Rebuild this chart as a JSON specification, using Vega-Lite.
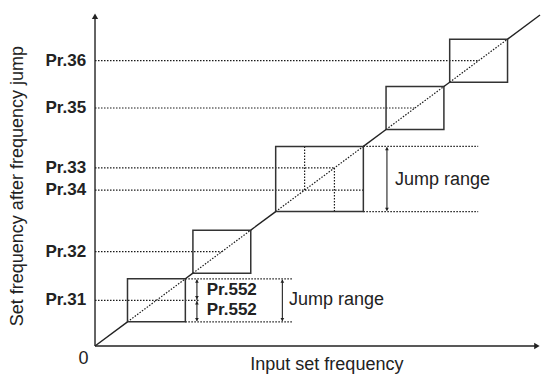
{
  "$schema": "https://vega.github.io/schema/vega-lite/v6.json",
  "width": 541,
  "height": 374,
  "padding": 0,
  "autosize": "none",
  "background": "white",
  "config": {"view": {"stroke": null}},
  "encoding": {
    "x": {"field": "x", "type": "quantitative", "scale": {"domain": [-21.35, 100.22], "nice": false, "zero": false}, "axis": null},
    "y": {"field": "y", "type": "quantitative", "scale": {"domain": [-8.46, 104.53], "nice": false, "zero": false}, "axis": null}
  },
  "layer": [
    {
      "data": {"values": [
        {"x": 7.3, "y": 7.3, "x2": 20.3, "y2": 20.3},
        {"x": 22, "y": 22, "x2": 35, "y2": 35},
        {"x": 40.6, "y": 40.6, "x2": 60.3, "y2": 60.3},
        {"x": 65.4, "y": 65.4, "x2": 78.4, "y2": 78.4},
        {"x": 79.7, "y": 79.7, "x2": 92.7, "y2": 92.7},
        {"x": 0, "y": 86.2, "x2": 86.2, "y2": 86.2},
        {"x": 0, "y": 71.9, "x2": 71.9, "y2": 71.9},
        {"x": 0, "y": 53.8, "x2": 53.8, "y2": 53.8},
        {"x": 0, "y": 47.1, "x2": 60.3, "y2": 47.1},
        {"x": 0, "y": 28.5, "x2": 28.5, "y2": 28.5},
        {"x": 0, "y": 13.8, "x2": 23.3, "y2": 13.8},
        {"x": 20.3, "y": 20.3, "x2": 44.3, "y2": 20.3},
        {"x": 20.3, "y": 7.3, "x2": 44.3, "y2": 7.3},
        {"x": 60.3, "y": 60.3, "x2": 86.1, "y2": 60.3},
        {"x": 60.3, "y": 40.6, "x2": 86.1, "y2": 40.6},
        {"x": 47.1, "y": 47.1, "x2": 47.1, "y2": 60.3},
        {"x": 53.8, "y": 40.6, "x2": 53.8, "y2": 53.8}
      ]},
      "mark": {"type": "rule", "color": "#1a1a1a", "strokeWidth": 1.2, "strokeDash": [1.5, 1.5]},
      "encoding": {"x2": {"field": "x2"}, "y2": {"field": "y2"}}
    },
    {
      "data": {"values": [
        {"x": 7.3, "y": 7.3, "x2": 20.3, "y2": 20.3},
        {"x": 22, "y": 22, "x2": 35, "y2": 35},
        {"x": 40.6, "y": 40.6, "x2": 60.3, "y2": 60.3},
        {"x": 65.4, "y": 65.4, "x2": 78.4, "y2": 78.4},
        {"x": 79.7, "y": 79.7, "x2": 92.7, "y2": 92.7}
      ]},
      "mark": {"type": "rect", "filled": false, "stroke": "#333333", "strokeWidth": 1.5},
      "encoding": {"x2": {"field": "x2"}, "y2": {"field": "y2"}}
    },
    {
      "data": {"values": [
        {"x": 0, "y": 0, "x2": 7.3, "y2": 7.3},
        {"x": 20.3, "y": 20.3, "x2": 22, "y2": 22},
        {"x": 35, "y": 35, "x2": 40.6, "y2": 40.6},
        {"x": 60.3, "y": 60.3, "x2": 65.4, "y2": 65.4},
        {"x": 78.4, "y": 78.4, "x2": 79.7, "y2": 79.7},
        {"x": 92.7, "y": 92.7, "x2": 100, "y2": 100},
        {"x": 0, "y": 0, "x2": 0, "y2": 99.5},
        {"x": 0, "y": 0, "x2": 99.3, "y2": 0}
      ]},
      "mark": {"type": "rule", "color": "#222222", "strokeWidth": 1.4},
      "encoding": {"x2": {"field": "x2"}, "y2": {"field": "y2"}}
    },
    {
      "data": {"values": [
        {"x": 22.9, "y": 13.9, "x2": 22.9, "y2": 20.0},
        {"x": 22.9, "y": 7.6, "x2": 22.9, "y2": 13.7},
        {"x": 42.1, "y": 7.6, "x2": 42.1, "y2": 20.0},
        {"x": 65.6, "y": 40.9, "x2": 65.6, "y2": 60.0}
      ]},
      "mark": {"type": "rule", "color": "#222222", "strokeWidth": 1.1},
      "encoding": {"x2": {"field": "x2"}, "y2": {"field": "y2"}}
    },
    {
      "data": {"values": [
        {"x": 0, "y": 99.6, "dir": "up"},
        {"x": 99.3, "y": 0, "dir": "right"}
      ]},
      "mark": {"type": "point", "filled": true, "opacity": 1, "color": "#222222", "size": 40},
      "encoding": {"shape": {"field": "dir", "type": "nominal", "scale": {"domain": ["up", "down", "right"], "range": ["triangle-up", "triangle-down", "triangle-right"]}, "legend": null}}
    },
    {
      "data": {"values": [
        {"x": 22.9, "y": 19.6, "dir": "up"},
        {"x": 22.9, "y": 14.6, "dir": "down"},
        {"x": 22.9, "y": 13.0, "dir": "up"},
        {"x": 22.9, "y": 8.0, "dir": "down"},
        {"x": 42.1, "y": 19.6, "dir": "up"},
        {"x": 42.1, "y": 8.0, "dir": "down"},
        {"x": 65.6, "y": 59.6, "dir": "up"},
        {"x": 65.6, "y": 41.3, "dir": "down"}
      ]},
      "mark": {"type": "point", "filled": true, "opacity": 1, "color": "#222222", "size": 14},
      "encoding": {"shape": {"field": "dir", "type": "nominal", "scale": {"domain": ["up", "down", "right"], "range": ["triangle-up", "triangle-down", "triangle-right"]}, "legend": null}}
    },
    {
      "data": {"values": [
        {"x": -2.0, "y": 86.2, "label": "Pr.36"},
        {"x": -2.0, "y": 71.9, "label": "Pr.35"},
        {"x": -2.0, "y": 53.8, "label": "Pr.33"},
        {"x": -2.0, "y": 47.1, "label": "Pr.34"},
        {"x": -2.0, "y": 28.5, "label": "Pr.32"},
        {"x": -2.0, "y": 13.8, "label": "Pr.31"}
      ]},
      "mark": {"type": "text", "align": "right", "baseline": "middle", "font": "Liberation Sans", "fontWeight": "bold", "fontSize": 17, "color": "#222222"},
      "encoding": {"text": {"field": "label"}}
    },
    {
      "data": {"values": [
        {"x": 25.1, "y": 17.0, "label": "Pr.552"},
        {"x": 25.1, "y": 11.0, "label": "Pr.552"}
      ]},
      "mark": {"type": "text", "align": "left", "baseline": "middle", "font": "Liberation Sans", "fontWeight": "bold", "fontSize": 17, "color": "#222222"},
      "encoding": {"text": {"field": "label"}}
    },
    {
      "data": {"values": [
        {"x": 43.6, "y": 13.9, "label": "Jump range"},
        {"x": 67.4, "y": 50.2, "label": "Jump range"}
      ]},
      "mark": {"type": "text", "align": "left", "baseline": "middle", "font": "Liberation Sans", "fontSize": 18, "color": "#222222"},
      "encoding": {"text": {"field": "label"}}
    },
    {
      "data": {"values": [
        {"x": -2.6, "y": -3.8, "label": "0"},
        {"x": 52.1, "y": -5.6, "label": "Input set frequency"}
      ]},
      "mark": {"type": "text", "align": "center", "baseline": "middle", "font": "Liberation Sans", "fontSize": 18, "color": "#222222"},
      "encoding": {"text": {"field": "label"}}
    },
    {
      "data": {"values": [
        {"x": -17.4, "y": 48.3, "label": "Set frequency after frequency jump"}
      ]},
      "mark": {"type": "text", "align": "center", "baseline": "middle", "angle": 270, "font": "Liberation Sans", "fontSize": 18, "color": "#222222"},
      "encoding": {"text": {"field": "label"}}
    }
  ]
}
